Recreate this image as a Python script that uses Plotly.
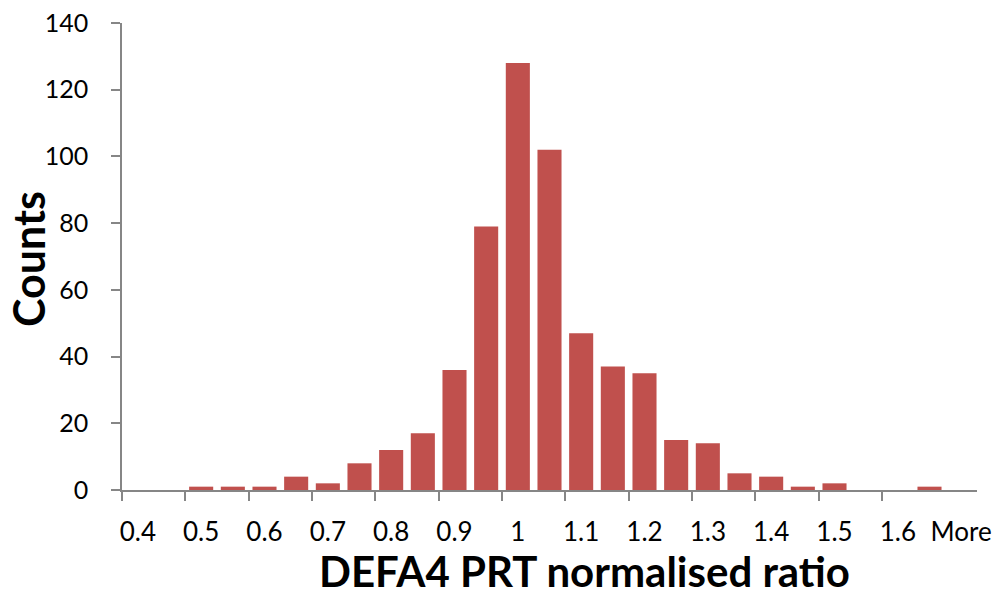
import plotly.graph_objects as go

bins = ["0.4", "0.45", "0.5", "0.55", "0.6", "0.65", "0.7", "0.75", "0.8", "0.85",
        "0.9", "0.95", "1", "1.05", "1.1", "1.15", "1.2", "1.25", "1.3", "1.35",
        "1.4", "1.45", "1.5", "1.55", "1.6", "1.65", "More"]
counts = [0, 0, 1, 1, 1, 4, 2, 8, 12, 17,
          36, 79, 128, 102, 47, 37, 35, 15, 14, 5,
          4, 1, 2, 0, 0, 1, 0]
tick_labels = bins[::2]
y_ticks = [0, 20, 40, 60, 80, 100, 120, 140]

FONT = "Lato"
AXIS = "#868686"
BAR = "#C0504D"

n = len(bins)
boundary_ticks = [i - 0.5 for i in range(0, n - 1, 2)]

fig = go.Figure()
fig.add_trace(go.Bar(x=bins, y=counts, marker=dict(color=BAR, line=dict(width=0)),
                     showlegend=False))
fig.add_trace(go.Scatter(x=[], y=[], xaxis="x2", yaxis="y", showlegend=False,
                         hoverinfo="skip"))

fig.update_layout(
    width=1001, height=599, autosize=False,
    margin=dict(l=122, r=24, t=23, b=109),
    paper_bgcolor="white", plot_bgcolor="white",
    bargap=0.24,
    font=dict(family=FONT, size=25, color="black"),
    xaxis=dict(type="category", categoryorder="array", categoryarray=bins,
               range=[-0.5, n - 0.5], automargin=False,
               tickvals=tick_labels, ticktext=tick_labels, ticks="",
               showline=True, linecolor=AXIS, linewidth=1.5,
               showgrid=False, zeroline=False, ticklabelstandoff=18,
               tickfont=dict(family=FONT, size=26, color="black")),
    xaxis2=dict(overlaying="x", anchor="y", side="bottom", type="linear",
                range=[-0.5, n - 0.5], tickvals=boundary_ticks, automargin=False,
                ticks="outside", ticklen=10, tickwidth=1.5, tickcolor=AXIS,
                showticklabels=False, showline=False, showgrid=False,
                zeroline=False),
    yaxis=dict(range=[0, 140], tickvals=y_ticks, ticks="outside", ticklen=9,
               tickwidth=1.5, tickcolor=AXIS, showline=True, linecolor=AXIS,
               linewidth=1.5, showgrid=False, zeroline=False, automargin=False,
               ticklabelstandoff=18,
               tickfont=dict(family=FONT, size=25, color="black")),
    annotations=[
        dict(text="<b>DEFA4 PRT normalised ratio</b>", xref="paper", yref="paper",
             x=0.5415, y=0.0, yshift=-108, xanchor="center", yanchor="bottom",
             showarrow=False, font=dict(family=FONT, size=42, color="black")),
        dict(text="<b>Counts</b>", xref="paper", yref="paper",
             x=-0.11, y=0.4946, xanchor="center", yanchor="middle",
             textangle=-90, showarrow=False,
             font=dict(family=FONT, size=43, color="black")),
    ],
)

fig.write_html("out.html")
